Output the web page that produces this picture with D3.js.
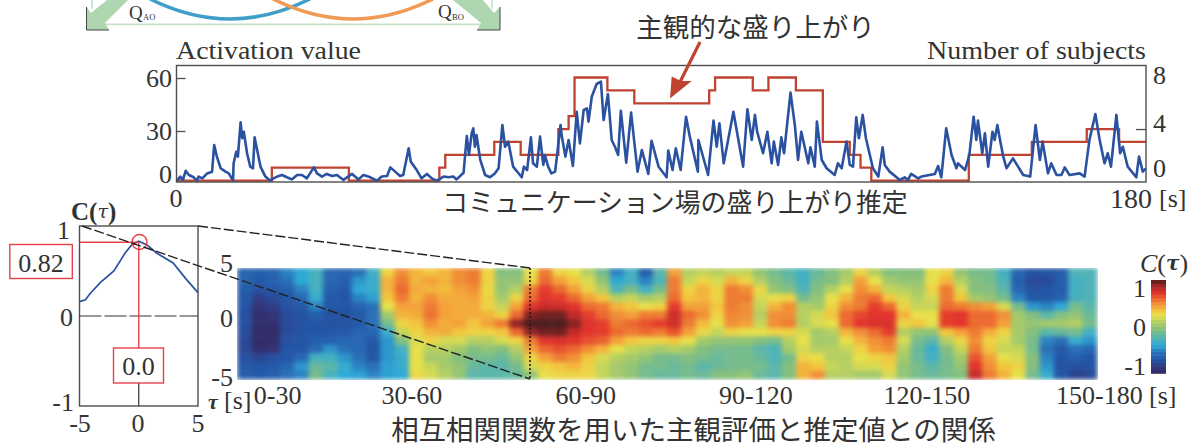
<!DOCTYPE html>
<html><head><meta charset="utf-8">
<style>html,body{margin:0;padding:0;background:#fff;overflow:hidden}
svg{display:block}
text{font-family:"Liberation Serif",serif;fill:#333}
.jp{font-family:"Noto Sans CJK JP",sans-serif;fill:#333}
</style>
<script src="https://cdnjs.cloudflare.com/ajax/libs/d3/7.8.5/d3.min.js"></script>
</head><body><svg id="c" width="1193" height="444"></svg>
<script>
// ---- data -----
const activationT=[0.1,.7,1.2,1.7,2.3,3.2,3.8,4.1,4.8,5.7,6.6,7,7.5,8.2,9.1,9.7,10.5,10.6,11.1,11.4,11.9,12.2,12.5,13.1,13.7,14.2,14.5,15.1,15.6,16.5,17.4,18,18.7,19.6,20.5,21.4,22.4,23.3,24.2,25.5,26.1,27,27.9,28.9,29.8,31,32.6,33.8,34.7,36,37.2,38.1,39.1,39.7,40.6,41.5,42.1,43.1,43.5,44.6,45.5,46.5,47.4,48.3,49.6,50.5,51.4,52,53.3,53.9,54.3,54.8,55.1,55.4,55.7,56.4,57.3,58.2,59.1,59.8,60.5,61,61.6,62.5,64.1,64.5,65.1,65.8,66.2,66.9,67.5,68.1,68.4,69,69.6,70.3,71.3,71.5,72.2,72.8,73.6,74.3,74.9,75.6,76.2,76.5,77.1,78,78.8,79.3,80.1,80.8,81.4,82,82.5,83.5,84.4,85.6,86.4,87.6,88.2,89.5,91,91.3,92.1,92.7,93.6,94.6,95.3,96.8,96.9,98.7,99.7,100.3,100.8,101.6,103.4,105.2,106,106.8,107.4,107.8,108.9,109.7,110.5,110.9,111.7,112.3,112.8,114,114.8,115.4,116,117.3,117.7,118.5,118.9,119.8,120.7,122.2,122.8,123.5,124.4,125,125.6,126.2,126.7,127.4,128,129.3,130.3,131.1,131.5,132.4,134.3,135.2,135.8,136.4,137.7,138.3,139.8,140.8,141.4,142,142.9,143.9,144.8,145.1,146.4,147.2,148,148.5,148.8,149.6,150.1,150.7,151.5,151.9,152.4,152.9,153.5,154.1,155.3,157.2,158.5,159.5,160.3,160.8,161.8,162.4,163.4,164.3,164.9,165.8,167.7,168.6,169.5,170.6,171.4,172.3,172.9,173.5,174.5,175.2,175.7,176.6,178.2,178.7,179.4,180];
const activationV=[1.9,4.2,2.3,7.5,5.1,3.8,1.9,4.2,3.2,6,6.9,22.1,15.5,8.9,7,6,1.9,11.7,18.3,15.5,34.9,25.9,29.6,17.4,9.8,8.9,26.4,17.4,9.8,4.2,1.9,3.2,4.2,5.1,3.8,2.6,5.1,5.1,3.2,9.4,6,4.2,5.7,4.5,5.1,2.3,5.7,2.6,5.1,3.8,1.9,4.2,4.5,9.4,7,4.5,5.1,20.2,12.6,7.9,3.2,5.7,3.2,1.9,4.2,3.8,4.2,2.6,6.4,27.2,16.4,28.7,31.5,21.1,27.7,13.6,5.1,3.8,6,8.9,33.4,21.1,24,9.8,3.8,9.8,7.9,26.4,11.7,9.8,26.8,10.8,16.4,9.8,6,7,33.4,27.7,15.5,24.9,10.2,40.9,23,41.9,42.8,35.3,49.4,56.6,57.9,36.2,50.9,24.9,21.1,16.4,41.5,12.1,40.4,7,19.2,5.7,24.5,9.8,3.8,18.9,7.9,20.2,7.9,38.1,26.8,7,24.9,5.1,35.9,21.1,34.3,11.7,40.9,9.8,42.3,24.9,39.1,29.6,17.4,29.6,11.7,24,10.8,26.4,17.4,51.7,33.4,13.6,29.6,11.7,20.8,9.8,35.3,13.6,8.9,5.1,11.7,8.9,24,10.8,9.8,37.7,25.9,39.1,25.9,8.9,4.2,20.8,10.8,7,2.3,3.8,2.3,5.7,3.2,4.2,5.1,5.7,10.2,3.8,31.5,16.4,8.9,11.7,7.9,16.4,38.1,24.9,35.9,17.4,28.7,9.8,29.6,24.9,33.4,24.9,15.5,8.9,14.5,5.1,4.2,33.4,13.6,24,6,11.7,5.1,5.1,9.4,5.1,6,4.2,24.9,39.6,24.9,11.7,17.4,9.8,39.1,17.4,21.1,9.8,3.8,15.5,7,8.9];
const subjectT=[0,17.7,32,48.8,49.9,59,63.9,70.9,72.8,73.9,80,85,98.9,100,107,109.9,115,120,125,127,129,147.1,158.8,169,175,180];
const subjectN=[0,1,0,1,2,3,2,4,5,8,7,6,7,8,7,8,7,3,2,1,0,2,3,4,3,3];
const lagTau=[-5,-4.5,-4.1,-3.25,-2.1,-1.15,-.6,0,.7,1.5,2.9,4,5];
const lagC=[.16,.18,.25,.37,.5,.7,.79,.83,.79,.7,.59,.41,.26];
const tauRows=[5,4.17,3.33,2.5,1.67,.83,0,-.83,-1.67,-2.5,-3.33,-4.17,-5];
// each entry: one 3-second window, correlation from tau=+5 (first) to tau=-5 (last)
const corrWindows=[
[-.62,-.62,-.66,-.68,-.7,-.72,-.72,-.74,-.76,-.76,-.72,-.68,-.66],
[-.65,-.68,-.72,-.82,-.88,-.92,-.94,-.96,-.97,-.92,-.78,-.7,-.68],
[-.62,-.62,-.68,-.75,-.82,-.88,-.92,-.95,-.95,-.88,-.72,-.68,-.65],
[-.5,-.55,-.65,-.7,-.72,-.75,-.75,-.75,-.72,-.7,-.7,-.6,-.55],
[-.4,-.4,-.5,-.6,-.68,-.72,-.72,-.72,-.7,-.7,-.6,-.45,-.5],
[-.28,-.28,-.3,-.35,-.5,-.65,-.7,-.7,-.65,-.58,-.3,-.15,-.1],
[-.6,-.6,-.65,-.68,-.7,-.72,-.72,-.7,-.65,-.45,-.3,-.2,-.28],
[-.62,-.65,-.68,-.7,-.7,-.72,-.72,-.68,-.6,-.55,-.45,-.35,-.4],
[-.55,-.45,-.4,-.5,-.62,-.68,-.68,-.62,-.6,-.6,-.55,-.5,-.42],
[-.3,-.35,-.35,-.42,-.55,-.55,-.55,-.6,-.68,-.7,-.7,-.55,-.5],
[.3,.4,.4,.35,.25,.05,-.1,-.35,-.45,-.45,-.45,-.42,-.42],
[.5,.55,.6,.55,.45,.4,.3,.15,-.05,-.3,-.35,-.35,-.4],
[.4,.4,.42,.4,.45,.42,.35,.3,.2,.25,.25,.25,.28],
[.35,.45,.4,.5,.55,.58,.5,.4,.3,.1,.05,.15,.2],
[.4,.4,.38,.42,.45,.45,.42,.42,.2,.1,.05,.05,.1],
[.5,.5,.45,.42,.42,.42,.45,.35,.2,.05,-.05,0,0],
[.55,.55,.5,.45,.42,.42,.35,.3,.1,-.05,-.1,-.15,-.2],
[.3,.3,.28,.3,.3,.4,.45,.3,.1,0,-.1,-.2,-.2],
[-.05,0,0,.05,.15,.3,.55,.35,.2,-.05,-.15,-.2,-.2],
[-.05,0,.1,.3,.45,.6,.9,.6,.3,.1,0,-.1,-.15],
[.25,.3,.55,.6,.72,.92,1,.9,.55,.45,.3,.2,0],
[.55,.6,.7,.72,.8,.95,1,.95,.72,.6,.45,.3,.25],
[.3,.45,.6,.7,.78,.95,1,.95,.75,.65,.55,.35,.3],
[.25,.35,.45,.6,.72,.82,.92,.82,.72,.6,.5,.4,.3],
[.1,.2,.3,.45,.6,.7,.74,.72,.66,.5,.35,.3,.28],
[-.1,0,.1,.35,.55,.6,.7,.7,.62,.4,.2,.15,.15],
[-.5,-.4,-.25,.1,.4,.5,.55,.6,.45,.25,.1,.05,.05],
[-.3,-.3,-.1,.15,.35,.45,.6,.55,.35,.15,.05,0,0],
[-.65,-.5,-.3,.05,.25,.55,.65,.6,.3,.1,0,-.1,-.1],
[-.2,-.25,-.1,.1,.3,.55,.7,.55,.3,.05,-.1,-.1,-.15],
[.45,.55,.55,.6,.7,.78,.78,.65,.35,.1,-.1,-.15,-.15],
[.1,.15,.3,.35,.45,.6,.55,.45,.25,.05,-.05,-.1,-.1],
[.15,.3,.4,.4,.45,.5,.38,.28,.05,-.05,-.1,-.2,-.15],
[.1,.2,.3,.3,.35,.3,.25,.15,0,-.1,-.15,-.15,-.05],
[.15,.4,.55,.55,.55,.52,.5,.3,0,-.1,-.1,-.1,-.05],
[.15,.3,.5,.55,.5,.5,.45,.25,0,-.1,-.1,-.1,0],
[0,.1,.28,.2,.15,.1,.15,.25,-.05,-.2,-.15,-.1,-.15],
[-.1,-.05,0,.25,.4,.5,.5,.3,-.1,-.25,-.25,-.2,-.2],
[-.2,-.15,-.05,.3,.5,.5,.55,.3,.1,.05,-.1,-.05,-.05],
[-.3,-.3,-.25,-.1,.1,.1,.1,.2,.25,.2,.3,.4,.4],
[-.15,-.1,-.05,0,.05,.2,.2,.05,.05,.1,.25,.35,.5],
[-.05,-.05,.1,.25,.3,.35,.25,.1,.05,.1,.1,.15,.1],
[.05,.1,.25,.4,.5,.6,.6,.4,.25,.15,.1,.1,.1],
[.3,.45,.5,.55,.55,.68,.72,.5,.4,.3,.25,.2,.05],
[.1,.25,.4,.6,.7,.72,.75,.6,.5,.45,.3,.2,.05],
[-.05,.05,.15,.35,.6,.72,.75,.7,.55,.5,.35,.3,.2],
[-.05,0,.1,.2,.3,.4,.3,.1,.2,.1,.05,0,0],
[-.05,0,.05,.1,.15,.25,.35,0,-.1,-.15,-.15,-.1,-.1],
[.25,.25,.3,.2,.15,.25,.25,0,-.2,-.35,-.3,-.2,-.15],
[.3,.4,.55,.55,.6,.7,.7,.35,.1,-.05,-.1,-.1,-.1],
[0,.1,.2,.35,.55,.72,.72,.45,.3,.15,.05,0,-.05],
[-.1,-.05,-.05,.05,.5,.6,.6,.55,.5,.55,.65,.72,.8],
[-.1,-.1,-.05,0,.45,.6,.6,.42,.3,.35,.45,.5,.55],
[-.3,-.25,-.2,-.1,.2,.5,.45,.3,.2,.15,.25,.35,.4],
[-.6,-.65,-.6,-.5,-.1,.05,.05,.05,.05,.15,.2,.3,.25],
[-.72,-.76,-.72,-.68,-.45,-.05,0,-.05,-.1,-.1,-.05,-.05,-.1],
[-.7,-.76,-.7,-.68,-.5,-.2,.05,-.2,-.5,-.55,-.5,-.45,-.35],
[-.66,-.66,-.66,-.62,-.4,-.05,.05,-.15,-.55,-.68,-.7,-.72,-.7],
[-.25,-.3,-.3,-.28,-.1,0,.1,-.1,-.35,-.55,-.65,-.72,-.8],
[-.25,-.25,-.25,-.25,-.2,-.15,-.1,-.3,-.45,-.6,-.7,-.72,-.76]];
const windowLabels=["0-30","30-60","60-90","90-120","120-150","150-180"];
const windowLabelT=[8.5,36.6,73,108.6,144.4,180.5];
const colorStops=[-1,-.88,-.7,-.55,-.4,-.25,-.05,.1,.25,.35,.45,.6,.72,.85,1];
const colorValues=["#2e2a60","#343378","#2356a6","#2a70b8","#2ea9d6","#4fb3b8","#84bf7e","#b5cf62","#e8e04a","#f2c63e","#f3a13a","#ec6a30","#e2342c","#b8272a","#4e1e1e"];

// ---- setup -----
const svg=d3.select("#c");
const FS=26;
const serif=(x,y,s,size,anchor)=>svg.append("text").attr("x",x).attr("y",y).attr("font-size",size).attr("text-anchor",anchor||"start").attr("dominant-baseline","central").text(s);
const jp=(x,y,s,size)=>svg.append("text").attr("class","jp").attr("x",x).attr("y",y).attr("font-size",size).attr("text-anchor","middle").attr("dominant-baseline","central").text(s);
const RED="#c0432f",BLUE="#2a52a0",FRAME="#4d4d4d",PINK="#e8404a";

// ---- cropped diagram at the top -----
const arrowFill="#aed6b0";
svg.append("line").attr("x1",105).attr("x2",480).attr("y1",24.4).attr("y2",24.4).attr("stroke","#c5e3c9").attr("stroke-width",1.6);
svg.append("line").attr("x1",92).attr("x2",92).attr("y1",0).attr("y2",9).attr("stroke","#c5e3c9").attr("stroke-width",1.6);
svg.append("line").attr("x1",492).attr("x2",492).attr("y1",0).attr("y2",9).attr("stroke","#c5e3c9").attr("stroke-width",1.6);
[["M86.5,30 L86.5,7 L91,13 L107,0 L128,0 L105,23 L109,30 Z"],["M500,30 L500,7 L494,13 L483,0 L453,0 L481,23 L477,30 Z"]].forEach(d=>{
 svg.append("path").attr("d",d[0]).attr("fill",arrowFill);
});
svg.append("path").attr("d","M86.5,7 L86.5,30 L109,30").attr("fill","none").attr("stroke","#333").attr("stroke-width",.9);
svg.append("path").attr("d","M500,7 L500,30 L477,30").attr("fill","none").attr("stroke","#333").attr("stroke-width",.9);
svg.append("path").attr("d","M150,-1 Q230,39 310,-1").attr("fill","none").attr("stroke","#3f9fc9").attr("stroke-width",3.6);
svg.append("path").attr("d","M273,-1 Q353,39 433,-1").attr("fill","none").attr("stroke","#f09a55").attr("stroke-width",3.6);
serif(129,12,"Q",19); serif(143,16.5,"AO",8.5);
serif(438,11,"Q",19); serif(452,16.5,"BO",8.5);

// ---- top chart -----
const x=d3.scaleLinear().domain([0,180]).range([176.5,1146]);
const yL=d3.scaleLinear().domain([0,60]).range([184,78]);
const yR=d3.scaleLinear().domain([0,8]).range([180.6,77.5]);
svg.append("clipPath").attr("id","topclip").append("rect").attr("x",176).attr("y",66).attr("width",971).attr("height",116);
svg.append("path").datum(d3.zip(subjectT,subjectN))
  .attr("d",d3.line().curve(d3.curveStepAfter).x(d=>x(d[0])).y(d=>yR(d[1])))
  .attr("fill","none").attr("stroke",RED).attr("stroke-width",2.3);
svg.append("path").datum(d3.zip(activationT,activationV))
  .attr("clip-path","url(#topclip)")
  .attr("d",d3.line().x(d=>x(d[0])).y(d=>yL(d[1])))
  .attr("fill","none").attr("stroke",BLUE).attr("stroke-width",2.6).attr("stroke-linejoin","round");
svg.append("rect").attr("x",176.5).attr("y",65.5).attr("width",969.5).attr("height",116.5).attr("fill","none").attr("stroke",FRAME).attr("stroke-width",1.4);
const leftAxis=svg.append("g").attr("transform","translate(176.5,0)")
  .call(d3.axisLeft(yL).tickValues([30,60]).tickSize(-9).tickFormat(""));
const rightAxis=svg.append("g").attr("transform","translate(1146,0)")
  .call(d3.axisRight(yR).tickValues([4]).tickSize(-10).tickFormat(""));
[leftAxis,rightAxis].forEach(a=>{a.select(".domain").remove();a.selectAll("line").attr("stroke",FRAME).attr("stroke-width",1.3);});
[[60,78],[30,131],[0,174]].forEach(d=>serif(172,d[1],d[0],FS,"end"));
[[8,75],[4,123],[0,168]].forEach(d=>serif(1153,d[1],d[0],FS));
serif(176,50,"Activation value",26).attr("textLength",185).attr("lengthAdjust","spacingAndGlyphs");
serif(927,50,"Number of subjects",26).attr("textLength",219).attr("lengthAdjust","spacingAndGlyphs");
serif(176,198,"0",FS,"middle");
serif(1110,198,"180",FS+2); serif(1159,198,"[s]",FS);
jp(675,200,"コミュニケーション場の盛り上がり推定",25.9);
jp(755.5,25,"主観的な盛り上がり",26.5);
svg.append("line").attr("x1",700).attr("y1",42).attr("x2",680).attr("y2",82).attr("stroke",RED).attr("stroke-width",3.2);
svg.append("path").attr("d","M670,98.5 L671.7,76.5 L681,81 L691.7,81 Z").attr("fill",RED);

// ---- lag plot -----
const xt=d3.scaleLinear().domain([-5,5]).range([79.5,198]);
const yc=d3.scaleLinear().domain([-1,1]).range([406,226]);
svg.append("rect").attr("x",79.5).attr("y",226).attr("width",118.5).attr("height",180).attr("fill","#fff").attr("stroke",FRAME).attr("stroke-width",1.4);
svg.append("line").attr("x1",xt(-5)).attr("x2",xt(5)).attr("y1",yc(0)).attr("y2",yc(0)).attr("stroke","#333").attr("stroke-width",1.2).attr("stroke-dasharray","22 3");
svg.append("path").datum(d3.zip(lagTau,lagC)).attr("d",d3.line().x(d=>xt(d[0])).y(d=>yc(d[1]))).attr("fill","none").attr("stroke",BLUE).attr("stroke-width",1.7);
svg.append("line").attr("x1",xt(-5)).attr("x2",xt(0)).attr("y1",yc(.82)).attr("y2",yc(.82)).attr("stroke",PINK).attr("stroke-width",1.4);
svg.append("line").attr("x1",xt(0)).attr("x2",xt(0)).attr("y1",yc(.82)).attr("y2",348).attr("stroke",PINK).attr("stroke-width",1.4);
svg.append("line").attr("x1",xt(0)).attr("x2",xt(0)).attr("y1",383).attr("y2",406).attr("stroke","#333").attr("stroke-width",1.2);
svg.append("circle").attr("cx",139.5).attr("cy",242).attr("r",7.5).attr("fill","none").attr("stroke",PINK).attr("stroke-width",1.4);
svg.append("rect").attr("x",9.8).attr("y",244.5).attr("width",62.5).attr("height",34).attr("fill","#fff").attr("stroke",PINK).attr("stroke-width",1.4);
svg.append("rect").attr("x",113.5).attr("y",348).attr("width",50).attr("height",35).attr("fill","#fff").attr("stroke",PINK).attr("stroke-width",1.4);
serif(41,263,"0.82",FS,"middle"); serif(138.5,366,"0.0",FS,"middle");
[["1",230,70],["0",317,73],["-1",402,74]].forEach(d=>serif(d[2],d[1],d[0],FS,"end"));
[["-5",80],["0",138],["5",198]].forEach(d=>serif(d[1],423,d[0],FS,"middle"));
const cl=serif(71,211,"",25).attr("font-weight","bold");
cl.append("tspan").text("C(");
cl.append("tspan").attr("font-style","italic").attr("font-family","'DejaVu Serif',serif").attr("font-weight","normal").attr("font-size",19).text("τ");
cl.append("tspan").text(")");

// ---- heat map -----
const cols=d3.range(corrWindows.length);
const hx=d3.scaleBand().domain(cols).range([237,1097]);
const hy=d3.scaleBand().domain(tauRows).range([268,379]);
const hcol=d3.scaleLinear().domain(colorStops).range(colorValues).clamp(true);
const defs=svg.append("defs");
const f=defs.append("filter").attr("id","soft").attr("x",0).attr("y",0).attr("width",1).attr("height",1).attr("filterUnits","objectBoundingBox").attr("color-interpolation-filters","sRGB");
f.append("feGaussianBlur").attr("stdDeviation","2.8 2.2").attr("edgeMode","duplicate");
const heat=svg.append("g").attr("filter","url(#soft)");
cols.forEach(i=>{
  heat.selectAll(null).data(corrWindows[i]).join("rect")
    .attr("x",hx(i)).attr("y",(d,j)=>hy(tauRows[j])).attr("width",hx.bandwidth()+.5).attr("height",hy.bandwidth()+.5)
    .attr("fill",d=>hcol(d));
});
const hxT=d3.scaleLinear().domain([0,180]).range([237,1097]);
windowLabels.forEach((s,i)=>serif(hxT(windowLabelT[i]),395,s,FS,"middle"));
serif(1149,395,"[s]",FS);
[["5",263],["0",318],["-5",377]].forEach(d=>serif(233,d[1],d[0],FS,"end"));
svg.append("text").attr("x",208).attr("y",401).attr("font-size",22).attr("font-weight","bold").attr("font-style","italic").attr("font-family","'DejaVu Serif',serif").attr("dominant-baseline","central").text("τ");
serif(224,400,"[s]",FS);
// dashed zoom guides
svg.append("line").attr("x1",82).attr("y1",226).attr("x2",530).attr("y2",379).attr("stroke","#222").attr("stroke-width",1.4).attr("stroke-dasharray","10 3");
svg.append("line").attr("x1",198).attr("y1",226).attr("x2",530).attr("y2",268).attr("stroke","#222").attr("stroke-width",1.4).attr("stroke-dasharray","10 3");
svg.append("line").attr("x1",530).attr("y1",268).attr("x2",530).attr("y2",379).attr("stroke","#222").attr("stroke-width",1.6).attr("stroke-dasharray","2 2");
jp(693.5,427.5,"相互相関関数を用いた主観評価と推定値との関係",27.5);

// ---- colour bar -----
const barLevels=d3.range(-1,1,2/26);
const barY=d3.scaleLinear().domain([-1,1]).range([373.3,280]);
svg.selectAll(null).data(barLevels).join("rect")
  .attr("x",1151).attr("width",15).attr("y",d=>barY(d+2/26)).attr("height",barY(0)-barY(2/26)+.5)
  .attr("fill",d=>hcol(d+1/26));
const barTick=d3.scaleLinear().domain([-1,1]).range([366,288]);
[[1,"1",1146],[0,"0",1146],[-1,"-1",1146]].forEach(d=>serif(d[2],barTick(d[0]),d[1],FS,"end"));
const ct=serif(1140,263,"",26);
ct.append("tspan").attr("font-style","italic").text("C");
ct.append("tspan").text("(");
ct.append("tspan").attr("font-style","italic").attr("font-weight","bold").attr("font-family","'DejaVu Serif',serif").attr("font-size",20).text("τ");
ct.append("tspan").text(")");
</script></body></html>
